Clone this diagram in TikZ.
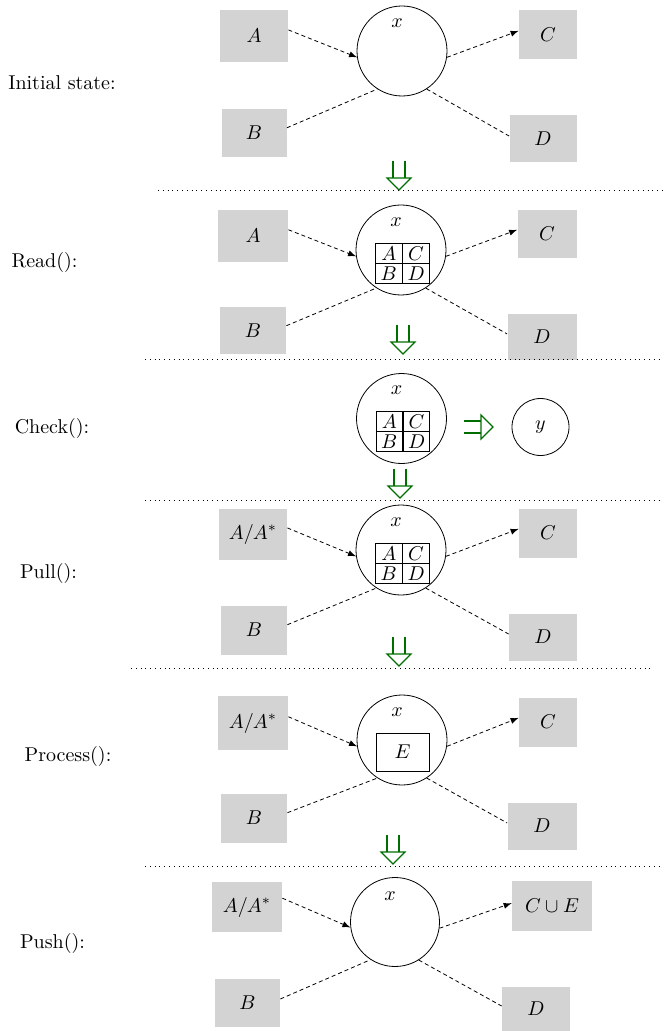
\documentclass[tikz,border=0pt]{standalone}
\usepackage{xcolor}
\usepackage{tikz}
\usetikzlibrary{shapes,arrows,positioning}

\definecolor{boxgray}{RGB}{211,211,211}
\definecolor{flowgreen}{RGB}{0,110,0}

\tikzset{
	downflow/.pic={
		\draw (-6,0) -- (-6,17) (6,0) -- (6,17);
		\draw (-12,17) -- (12,17) -- (0,29) -- cycle;
	},
	rightflow/.pic={
		\draw (0,-6) -- (17,-6) (0,6) -- (17,6);
		\draw (17,-12) -- (17,12) -- (29,0) -- cycle;
	}
}

\begin{document}
\begin{tikzpicture}[x=0.5pt, y=-0.5pt]
	\tikzstyle{common} = [inner sep=0pt]
	\tikzstyle{box} = [rectangle, common, fill=boxgray]
	\tikzstyle{state} = [circle, common, draw, minimum size=45pt]
	\tikzstyle{cell} = [rectangle, common, draw, minimum width=13.25pt, minimum height=9.75pt]
	\tikzstyle{line} = [draw, dash pattern=on 2pt off 1.5pt]
	\tikzstyle{arrow} = [line, -latex]
	\tikzstyle{sep} = [draw, dotted]
	\tikzstyle{flow} = [flowgreen, line width=0.6pt]
	\tikzstyle{caption} = [common]

	\useasboundingbox (0,0) rectangle (665,1031);

	% initial state
	\node[caption] (t1) at (62,83) {Initial state:};
	\node[state] (s1) at (402,51) {};
	\node (n1) at ([shift={(-5,-28)}]s1.center) {$x$};
	\node[box, minimum width=34pt, minimum height=26pt] (a1) at (254,36) {$A$};
	\node[box, minimum width=29pt, minimum height=24.5pt] (c1) at (548,35) {$C$};
	\node[box, minimum width=32.5pt, minimum height=24pt] (b1) at (254,133) {$B$};
	\node[box, minimum width=33.5pt, minimum height=23.5pt] (d1) at (543,139) {$D$};
	\draw[arrow] (a1.10) -- (s1.188);
	\draw[line] (b1.9) -- (s1.237);
	\draw[arrow] (s1.352) -- (c1.172);
	\draw[line] (s1.303) -- (d1.175);
	\pic[flow] (f1) at (399,161) {downflow};
	\draw[sep] (158,190) -- (663,190);

	% read
	\node[caption] (t2) at (44.5,263) {Read():};
	\node[state] (s2) at (401,250) {};
	\node (n2) at ([shift={(-5,-28)}]s2.center) {$x$};
	\node[cell] (ac2) at ([shift={(-12.25,3.25)}]s2.center) {$A$};
	\node[cell, right=0pt of ac2] (cc2) {$C$};
	\node[cell, below=0pt of ac2] (bc2) {$B$};
	\node[cell, below=0pt of cc2] (dc2) {$D$};
	\node[box, minimum width=35pt, minimum height=26pt] (a2) at (253,236) {$A$};
	\node[box, minimum width=29.5pt, minimum height=24pt] (c2) at (547,234) {$C$};
	\node[box, minimum width=33pt, minimum height=23.5pt] (b2) at (253,331) {$B$};
	\node[box, minimum width=34.5pt, minimum height=23pt] (d2) at (542,337) {$D$};
	\draw[arrow] (a2.10) -- (s2.188);
	\draw[line] (b2.9) -- (s2.237);
	\draw[arrow] (s2.352) -- (c2.172);
	\draw[line] (s2.303) -- (d2.175);
	\pic[flow] (f2) at (403,325) {downflow};
	\draw[sep] (145,359) -- (663,359);

	% check
	\node[caption] (t3) at (52,428) {Check():};
	\node[state] (s3) at (401.5,418.5) {};
	\node (n3) at ([shift={(-5,-28)}]s3.center) {$x$};
	\node[cell] (ac3) at ([shift={(-12.25,2.75)}]s3.center) {$A$};
	\node[cell, right=0pt of ac3] (cc3) {$C$};
	\node[cell, below=0pt of ac3] (bc3) {$B$};
	\node[cell, below=0pt of cc3] (dc3) {$D$};
	\pic[flow] (g3) at (464,427) {rightflow};
	\node[state, minimum size=28.5pt] (y3) at (540.5,427) {$y$};
	\pic[flow] (f3) at (400,469) {downflow};
	\draw[sep] (145,500) -- (663,500);

	% pull
	\node[caption] (t4) at (48.5,573) {Pull():};
	\node[state] (s4) at (401,550) {};
	\node (n4) at ([shift={(-5,-28)}]s4.center) {$x$};
	\node[cell] (ac4) at ([shift={(-12.25,3.25)}]s4.center) {$A$};
	\node[cell, right=0pt of ac4] (cc4) {$C$};
	\node[cell, below=0pt of ac4] (bc4) {$B$};
	\node[cell, below=0pt of cc4] (dc4) {$D$};
	\node[box, minimum width=34pt, minimum height=25.5pt] (a4) at (253,534) {$A/A^*$};
	\node[box, minimum width=29pt, minimum height=24.5pt] (c4) at (548,533) {$C$};
	\node[box, minimum width=33pt, minimum height=24.5pt] (b4) at (254,630) {$B$};
	\node[box, minimum width=34pt, minimum height=23.5pt] (d4) at (543,637) {$D$};
	\draw[arrow] (a4.10) -- (s4.188);
	\draw[line] (b4.9) -- (s4.237);
	\draw[arrow] (s4.352) -- (c4.172);
	\draw[line] (s4.303) -- (d4.175);
	\pic[flow] (f4) at (399,637) {downflow};
	\draw[sep] (131,668) -- (650,668);

	% process
	\node[caption] (t5) at (68,756) {Process():};
	\node[state] (s5) at (402,740) {};
	\node (n5) at ([shift={(-5,-28)}]s5.center) {$x$};
	\node[rectangle, common, draw, minimum width=26.5pt, minimum height=19pt] (e5) at ([shift={(0.5,12)}]s5.center) {$E$};
	\node[box, minimum width=35pt, minimum height=27pt] (a5) at (253,723) {$A/A^*$};
	\node[box, minimum width=29pt, minimum height=24.5pt] (c5) at (548,722) {$C$};
	\node[box, minimum width=33pt, minimum height=24.5pt] (b5) at (254,818) {$B$};
	\node[box, minimum width=34.5pt, minimum height=23.5pt] (d5) at (542,826) {$D$};
	\draw[arrow] (a5.10) -- (s5.188);
	\draw[line] (b5.9) -- (s5.237);
	\draw[arrow] (s5.352) -- (c5.172);
	\draw[line] (s5.303) -- (d5.175);
	\pic[flow] (f5) at (393,835) {downflow};
	\draw[sep] (145,866) -- (663,866);

	% push
	\node[caption] (t6) at (52.5,943) {Push():};
	\node[state, minimum size=44.5pt] (s6) at (395,922) {};
	\node (n6) at ([shift={(-5,-26)}]s6.center) {$x$};
	\node[box, minimum width=35pt, minimum height=25pt] (a6) at (247,907) {$A/A^*$};
	\node[box, minimum width=40pt, minimum height=25pt] (c6) at (552,906) {$C\cup E$};
	\node[box, minimum width=32.5pt, minimum height=24pt] (b6) at (247.5,1003) {$B$};
	\node[box, minimum width=34pt, minimum height=22pt] (d6) at (536,1009) {$D$};
	\draw[arrow] (a6.14) -- (s6.187);
	\draw[line] (b6.7) -- (s6.237);
	\draw[arrow] (s6.352) -- (c6.176);
	\draw[line] (s6.302) -- (d6.175);
\end{tikzpicture}
\end{document}
